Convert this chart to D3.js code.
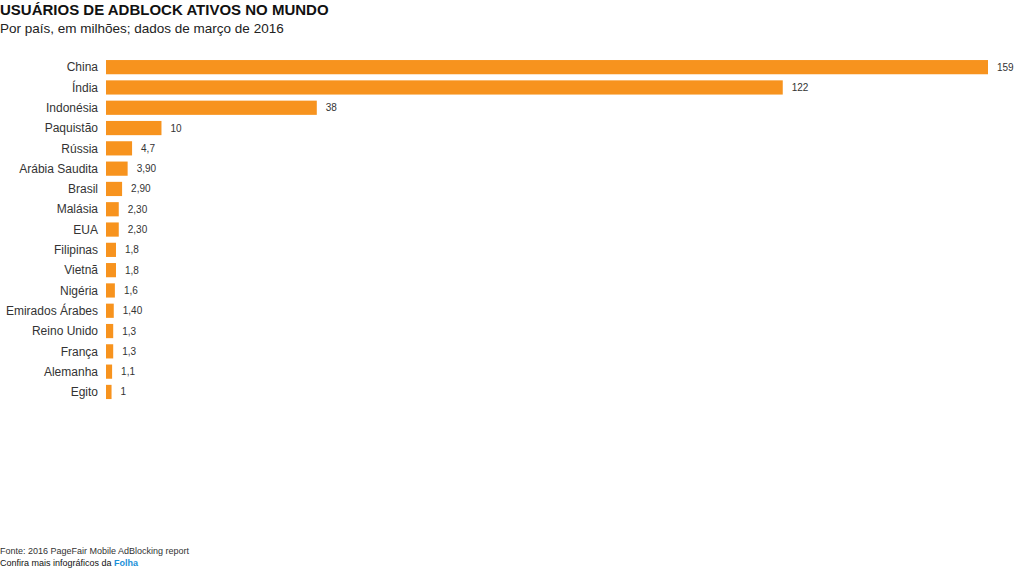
<!DOCTYPE html>
<html lang="pt">
<head>
  <meta charset="utf-8">
  <title>Usuários de adblock ativos no mundo</title>
  <script src="https://d3js.org/d3.v7.min.js"></script>
  <style>
    body { margin: 0; background: #fff; }
    svg { display: block; font-family: "Liberation Sans", Arial, Helvetica, sans-serif; }
  </style>
</head>
<body>
<script>
  // dados (milhões de usuários, março de 2016)
  var countries = ["China", "Índia", "Indonésia", "Paquistão", "Rússia", "Arábia Saudita",
    "Brasil", "Malásia", "EUA", "Filipinas", "Vietnã", "Nigéria", "Emirados Árabes",
    "Reino Unido", "França", "Alemanha", "Egito"];
  var users = [159, 122, 38, 10, 4.7, 3.9, 2.9, 2.3, 2.3, 1.8, 1.8, 1.6, 1.4, 1.3, 1.3, 1.1, 1];
  var valueLabels = ["159", "122", "38", "10", "4,7", "3,90", "2,90", "2,30", "2,30",
    "1,8", "1,8", "1,6", "1,40", "1,3", "1,3", "1,1", "1"];

  var width = 1024, height = 572;
  var barLeft = 106, barRight = 988, chartTop = 57, rowH = 20.3;

  var svg = d3.select("body").append("svg")
    .attr("width", width)
    .attr("height", height);

  var x = d3.scaleLinear().domain([0, d3.max(users)]).range([barLeft, barRight]);
  var y = d3.scaleBand()
    .domain(countries)
    .range([chartTop, chartTop + rowH * countries.length])
    .paddingInner(0.3)
    .paddingOuter(0.15);

  // título
  svg.append("text")
    .attr("x", 0).attr("y", 15)
    .attr("font-size", 15).attr("font-weight", "bold").attr("fill", "#111")
    .text("USUÁRIOS DE ADBLOCK ATIVOS NO MUNDO");
  svg.append("text")
    .attr("x", 0).attr("y", 33)
    .attr("font-size", 13.5).attr("fill", "#222")
    .text("Por país, em milhões; dados de março de 2016");

  var rows = svg.selectAll(".row")
    .data(countries)
    .enter().append("g")
    .attr("class", "row");

  rows.append("rect")
    .attr("x", barLeft)
    .attr("y", function(d) { return y(d); })
    .attr("width", function(d, i) { return x(users[i]) - barLeft; })
    .attr("height", y.bandwidth())
    .attr("fill", "#F7931E");

  rows.append("text")
    .attr("x", 98)
    .attr("y", function(d) { return y(d) + y.bandwidth() / 2; })
    .attr("dy", "0.35em")
    .attr("text-anchor", "end")
    .attr("font-size", 12)
    .attr("fill", "#333")
    .text(function(d) { return d; });

  rows.append("text")
    .attr("x", function(d, i) { return x(users[i]) + 9; })
    .attr("y", function(d) { return y(d) + y.bandwidth() / 2; })
    .attr("dy", "0.35em")
    .attr("font-size", 10)
    .attr("fill", "#333")
    .text(function(d, i) { return valueLabels[i]; });

  // rodapé
  svg.append("text")
    .attr("x", 0).attr("y", 554)
    .attr("font-size", 9).attr("fill", "#333")
    .text("Fonte: 2016 PageFair Mobile AdBlocking report");
  var foot = svg.append("text")
    .attr("x", 0).attr("y", 566)
    .attr("font-size", 9).attr("fill", "#111")
    .text("Confira mais infográficos da ");
  foot.append("tspan")
    .attr("fill", "#1a8fd8").attr("font-weight", "bold")
    .text("Folha");
</script>
</body>
</html>
